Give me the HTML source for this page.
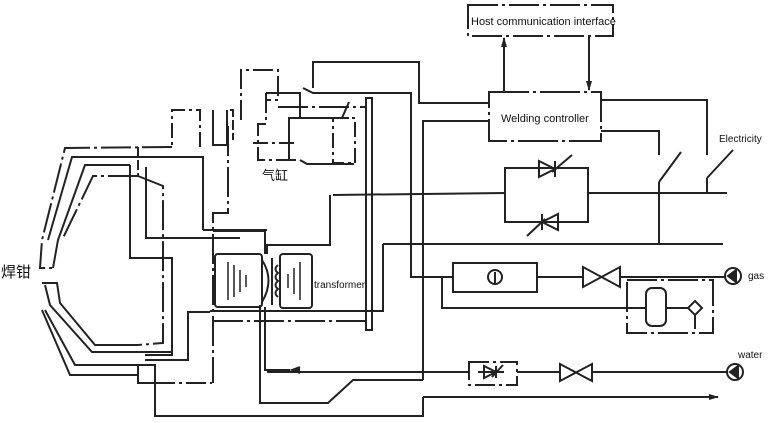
<!DOCTYPE html>
<html><head><meta charset="utf-8"><style>
html,body{margin:0;padding:0;background:#fff;}
svg{display:block;}
text{font-family:"Liberation Sans",sans-serif;fill:#111;}
</style></head><body>
<svg width="768" height="423" viewBox="0 0 768 423" xmlns="http://www.w3.org/2000/svg">
<defs>
<marker id="ar" markerWidth="10" markerHeight="8" refX="9" refY="4" orient="auto" markerUnits="userSpaceOnUse"><path d="M0,1 L10,4 L0,7 z" fill="#222"/></marker>
</defs>
<g fill="none" stroke="#222" stroke-width="2">
<!-- Host box -->
<rect x="468" y="5" width="145" height="31" stroke-dasharray="30,4,3,4"/>
<line x1="504" y1="92" x2="504" y2="38" marker-end="url(#ar)"/>
<line x1="589" y1="36" x2="589" y2="90" marker-end="url(#ar)"/>
<!-- controller -->
<rect x="489" y="92" width="112" height="49" stroke-dasharray="40,4,3,4"/>
<polyline points="313,88 313,62 419,62 419,103 489,103"/>
<polyline points="489,121 423,121 423,380"/>
<polyline points="303,88 313,93 411,93 411,277 453,277"/>
<polyline points="601,100 707,100 707,155"/>
<polyline points="601,131 659,131 659,155"/>
<line x1="707" y1="178" x2="733" y2="150"/>
<line x1="707" y1="178" x2="707" y2="193"/>
<line x1="659" y1="182" x2="681" y2="152"/>
<line x1="659" y1="182" x2="659" y2="244"/>
<!-- thyristors -->
<line x1="333" y1="195" x2="505" y2="193"/>
<rect x="505" y="168" width="83" height="54"/>
<line x1="588" y1="193" x2="727" y2="193"/>
<path d="M539,161 L539,177 L555,169 Z M555,161 L555,177 M552,172 L572,155"/>
<path d="M558,214 L558,230 L542,222 Z M542,214 L542,230 M545,219 L527,236"/>
<line x1="383" y1="244" x2="723" y2="244"/>
<!-- gas -->
<rect x="453" y="263" width="84" height="29"/>
<circle cx="495" cy="277" r="7"/>
<line x1="495" y1="272" x2="495" y2="284"/>
<line x1="537" y1="277" x2="583" y2="277"/>
<path d="M583,267 L583,287 L620,267 L620,287 Z"/>
<line x1="620" y1="277" x2="725" y2="277"/>
<circle cx="733" cy="276" r="8"/>
<path d="M736,270 L728,276 L736,282 Z" fill="#222"/>
<rect x="627" y="280" width="86" height="53" stroke-dasharray="30,4,3,4"/>
<rect x="646" y="288" width="20" height="38" rx="6"/>
<polyline points="442,277 442,308 646,308"/>
<line x1="666" y1="308" x2="689" y2="308"/>
<path d="M695,301 L702,308 L695,315 L688,308 Z"/>
<line x1="695" y1="315" x2="695" y2="329"/>
<!-- water -->
<line x1="267" y1="372" x2="469" y2="372"/>
<rect x="469" y="362" width="48" height="23" stroke-dasharray="20,4,3,4"/>
<path d="M484,366 L484,378 L496,372 Z M496,366 L496,378 M478,372 L504,372 M492,377 L503,365"/>
<line x1="517" y1="372" x2="560" y2="372"/>
<path d="M560,364 L560,381 L592,364 L592,381 Z"/>
<line x1="592" y1="372" x2="727" y2="372"/>
<circle cx="735" cy="372" r="8"/>
<path d="M738,366 L730,372 L738,378 Z" fill="#222"/>
<line x1="423" y1="397" x2="718" y2="397" marker-end="url(#ar)"/>
<polyline points="155,383 155,416 423,416 423,397"/>
<polyline points="260,305 260,403 328,403 353,380 423,380"/>
<polyline points="265,307 265,370 290,370"/>
<path d="M300,367 L292,370 L300,373" fill="#222"/>
<!-- rail -->
<rect x="366" y="98" width="6" height="232"/>
<!-- transformer -->
<rect x="215" y="254" width="47" height="53" rx="3"/>
<rect x="280" y="254" width="32" height="54" rx="3"/>
<path d="M262,260 Q275,280 262,302" />
<path d="M278,265 q-5,4 0,8 q-5,4 0,8 q-5,4 0,8 q-5,4 0,8"/>
<line x1="272" y1="258" x2="272" y2="305"/>
<path d="M228,262 V300 M234,265 V297 M240,270 V292 M246,275 V287 M300,262 V300 M294,268 V294 M288,274 V288" stroke-width="1.5"/>
<polyline points="213,231 265,231 265,254"/>
<polyline points="267,254 267,245 330,245 330,195"/>
<polyline points="210,311 383,311 383,244"/>
<line x1="213" y1="321" x2="366" y2="321" stroke-dasharray="30,4,3,4"/>
<!-- cylinder area -->
<polyline points="241,120 241,70 278,70 278,100 266,100" stroke-dasharray="20,4,3,4"/>
<polyline points="266,93 300,93 300,118 349,118" />
<polyline points="278,107 366,107" stroke-dasharray="30,4,3,4"/>
<polyline points="266,93 266,124 258,124 258,160 300,160" stroke-dasharray="20,4,3,4"/>
<polyline points="300,118 289,118 289,124 289,160"/>
<line x1="253" y1="143" x2="297" y2="143" stroke-dasharray="15,4,3,4"/>
<polyline points="300,160 307,164 354,164"/>
<rect x="333" y="118" width="22" height="45" stroke-dasharray="15,4,3,4"/>
<line x1="342" y1="118" x2="349" y2="102"/>
<polyline points="227,120 227,110 233,110 233,140" stroke-dasharray="10,3"/>
<polyline points="200,147 200,110 172,110 172,147" stroke-dasharray="15,4,3,4"/>
<polyline points="227,110 227,145 213,145 213,110" />
<polyline points="228,126 228,213 213,213 213,383" stroke-dasharray="30,4,3,4"/>
<!-- electrode arms -->
<polyline points="172,147 65,148 42,240 40,268 55,268" stroke-dasharray="30,4,3,4"/>
<polyline points="203,230 203,157 72,157 48,240"/>
<polyline points="130,165 85,165 58,240 53,268"/>
<polyline points="138,176 93,176 62,240" stroke-dasharray="30,4,3,4"/>
<line x1="138" y1="147" x2="138" y2="176" stroke-dasharray="10,3"/>
<polyline points="130,165 130,258 172,258 172,355 145,355"/>
<polyline points="138,176 163,186 163,343 138,345" stroke-dasharray="30,4,3,4"/>
<polyline points="146,167 146,238 240,238"/>
<polyline points="203,230 267,230"/>
<polyline points="42,283 57,283 60,303 95,345 138,345"/>
<polyline points="45,285 50,305 92,352 172,352"/>
<polyline points="45,310 75,365 153,365"/>
<polyline points="42,310 70,375 138,375"/>
<rect x="138" y="365" width="17" height="18"/>
<polyline points="145,360 188,360 188,312 210,312"/>
<line x1="155" y1="383" x2="212" y2="383" stroke-dasharray="20,4,3,4"/>
</g>
<text x="471" y="25" font-size="11">Host communication interface</text>
<text x="501" y="122" font-size="11">Welding controller</text>
<text x="719" y="142" font-size="10">Electricity</text>
<text x="748" y="279" font-size="10">gas</text>
<text x="738" y="358" font-size="10">water</text>
<text x="314" y="288" font-size="10">transformer</text>
<text x="1" y="277" font-size="15" style='font-family:"Liberation Sans","Noto Sans CJK SC",sans-serif'>焊钳</text>
<text x="262" y="180" font-size="13" style='font-family:"Liberation Sans","Noto Sans CJK SC",sans-serif'>气缸</text>
</svg>
</body></html>
